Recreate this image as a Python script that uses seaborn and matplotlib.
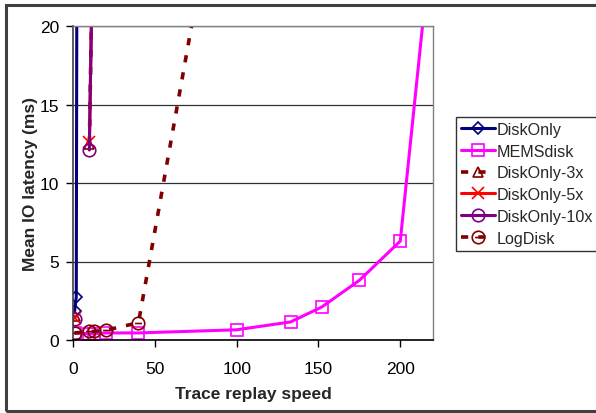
import numpy as np
import pandas as pd
import matplotlib
matplotlib.use("Agg")
import matplotlib.pyplot as plt
import matplotlib.patches as mpatches
from matplotlib.path import Path
import seaborn as sns

sns.set_theme(style="white")
plt.rcParams['font.family'] = ['Liberation Sans', 'DejaVu Sans']

# data
disk_x = [1, 2, 3]
disk_y = [1.85, 2.75, 60.0]
mems_x = [1, 10, 13, 20, 40, 100, 133, 152, 175, 200, 225]
mems_y = [0.45, 0.4, 0.4, 0.45, 0.45, 0.65, 1.15, 2.1, 3.8, 6.3, 31.5]
# low-speed points (separate, not connected) and the run-away segment
d3_low_x, d3_low_y = [1], [1.5]
d3_x = [10, 12]
d3_y = [12.5, 25.0]
d5_low_x, d5_low_y = [1], [1.4]
d5_x = [10, 12]
d5_y = [12.6, 25.0]
d10_low_x, d10_low_y = [1], [1.35]
d10_x = [10, 12]
d10_y = [12.1, 25.0]
log_x = [1, 10, 13, 20, 40, 80]
log_y = [0.45, 0.55, 0.55, 0.62, 1.1, 24.4]

series_names = ["DiskOnly", "MEMSdisk", "DiskOnly-3x", "DiskOnly-5x", "DiskOnly-10x", "LogDisk"]
xticks = [0, 50, 100, 150, 200]
yticks = [0, 5, 10, 15, 20]

# circle with horizontal bar marker
circ = Path.unit_circle()
bar = Path([(-0.55, 0), (0.55, 0)], [Path.MOVETO, Path.LINETO])
ominus = Path.make_compound_path(circ, bar)

fig = plt.figure(figsize=(5.96, 4.14), dpi=100)
ax = fig.add_axes([73/596, 1-341/414, (433-73)/596, (341-27)/414])

dash = (0, (2.0, 2.8))
styles = [
    dict(x=disk_x, y=disk_y, low=None, color="#000080", marker="D", ms=6, ls="-", lw=2.2),
    dict(x=mems_x, y=mems_y, low=None, color="#FF00FF", marker="s", ms=9, ls="-", lw=2.2),
    dict(x=d3_x, y=d3_y, low=(d3_low_x, d3_low_y), color="#800000", marker="^", ms=7, ls=dash, lw=2.6),
    dict(x=d5_x, y=d5_y, low=(d5_low_x, d5_low_y), color="#FF0000", marker="x", ms=9, ls="-", lw=2.2),
    dict(x=d10_x, y=d10_y, low=(d10_low_x, d10_low_y), color="#800080", marker="o", ms=9, ls="-", lw=2.2),
    dict(x=log_x, y=log_y, low=None, color="#800000", marker=ominus, ms=9, ls=dash, lw=2.6),
]

for name, s in zip(series_names, styles):
    df = pd.DataFrame({"x": s["x"], "y": s["y"]})
    sns.lineplot(data=df, x="x", y="y", ax=ax, sort=False, color=s["color"],
                 marker=s["marker"], markersize=s["ms"], linestyle=s["ls"],
                 linewidth=s["lw"], markerfacecolor="none",
                 markeredgecolor=s["color"], markeredgewidth=1.2, label=name)
    if s["low"] is not None:
        dfl = pd.DataFrame({"x": s["low"][0], "y": s["low"][1]})
        sns.lineplot(data=dfl, x="x", y="y", ax=ax, color=s["color"],
                     marker=s["marker"], markersize=s["ms"], linestyle="none",
                     markerfacecolor="none", markeredgecolor=s["color"],
                     markeredgewidth=1.2, legend=False)

ax.set_xlim(0, 220)
ax.set_ylim(0, 20)
ax.set_xticks(xticks)
ax.set_yticks(yticks)
ax.tick_params(axis="both", labelsize=12.5, direction="out", length=5, width=1,
               colors="black", bottom=True, left=True)
ax.tick_params(axis="x", pad=10)
ax.tick_params(axis="y", pad=5)
ax.yaxis.grid(True, color="#303030", linewidth=0.9)
ax.set_axisbelow(True)
for side in ["top", "right"]:
    ax.spines[side].set_color("#808080")
    ax.spines[side].set_linewidth(1)
ax.spines["left"].set_color("#404040")
ax.spines["left"].set_linewidth(1.2)
ax.spines["bottom"].set_color("black")
ax.spines["bottom"].set_linewidth(1.2)

ax.set_xlabel("Trace replay speed", fontsize=12.5, fontweight="bold", labelpad=7)
ax.set_ylabel("Mean IO latency (ms)", fontsize=12.5, fontweight="bold", labelpad=1)

leg = ax.legend(loc="upper left", bbox_to_anchor=(456/596, 1-118/414),
                bbox_transform=fig.transFigure, fontsize=11.6, frameon=True,
                fancybox=False, edgecolor="black", handlelength=2.1,
                handletextpad=0.15, borderpad=0.3, labelspacing=0.42,
                borderaxespad=0)
leg.get_frame().set_linewidth(1.0)

# outer figure border
fig.patches.append(mpatches.Rectangle((6/596, 1-412/414), 1.2, (412-6)/414,
                                      transform=fig.transFigure, fill=False,
                                      edgecolor="#404040", linewidth=2.2))

fig.savefig("out.png", dpi=100)
